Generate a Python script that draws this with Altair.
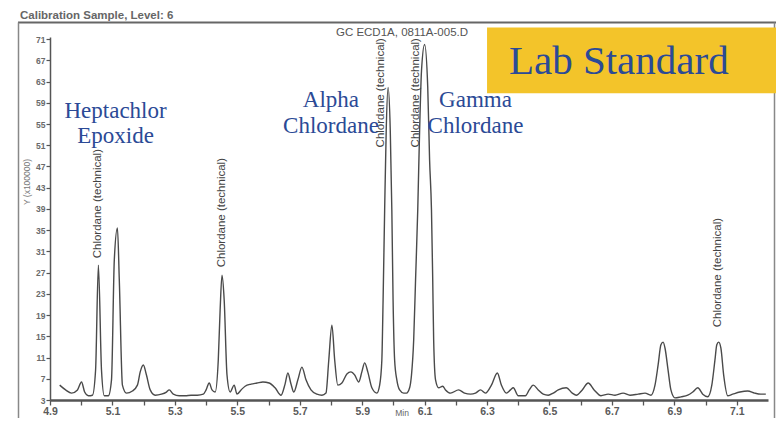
import altair as alt
import pandas as pd

# ---- chromatogram trace (retention time in min, detector response) ----
time_min = [
    4.931, 4.950, 4.969, 4.988, 5.001, 5.011, 5.023, 5.036, 5.046, 5.055,
    5.065, 5.074, 5.087, 5.097, 5.106, 5.116, 5.122, 5.132, 5.145, 5.164,
    5.180, 5.189, 5.199, 5.209, 5.221, 5.237, 5.257, 5.273, 5.282, 5.295,
    5.314, 5.333, 5.352, 5.372, 5.391, 5.400, 5.410, 5.419, 5.429, 5.439,
    5.445, 5.451, 5.458, 5.467, 5.477, 5.490, 5.499, 5.512, 5.525, 5.544,
    5.563, 5.582, 5.602, 5.621, 5.640, 5.653, 5.662, 5.672, 5.681, 5.694,
    5.707, 5.720, 5.736, 5.755, 5.771, 5.784, 5.793, 5.803, 5.812, 5.822,
    5.835, 5.851, 5.864, 5.876, 5.889, 5.899, 5.908, 5.918, 5.931, 5.947,
    5.956, 5.963, 5.967, 5.972, 5.977, 5.983, 5.990, 5.995, 5.999, 6.004,
    6.011, 6.020, 6.033, 6.042, 6.052, 6.058, 6.065, 6.071, 6.078, 6.084,
    6.090, 6.100, 6.110, 6.116, 6.122, 6.126, 6.129, 6.135, 6.145, 6.158,
    6.167, 6.183, 6.209, 6.228, 6.247, 6.263, 6.279, 6.295, 6.314, 6.333,
    6.346, 6.362, 6.375, 6.384, 6.400, 6.423, 6.435, 6.448, 6.464, 6.480,
    6.496, 6.512, 6.528, 6.554, 6.573, 6.586, 6.605, 6.624, 6.643, 6.665,
    6.688, 6.710, 6.736, 6.758, 6.784, 6.806, 6.825, 6.838, 6.848, 6.857,
    6.864, 6.870, 6.880, 6.889, 6.902, 6.921, 6.943, 6.959, 6.975, 6.991,
    7.007, 7.020, 7.030, 7.036, 7.042, 7.049, 7.058, 7.071, 7.087, 7.110,
    7.135, 7.157, 7.177, 7.193,
]
signal = [
    5.8, 4.9, 4.3, 4.9, 6.4, 4.5, 3.8, 3.9, 8.6, 28.4,
    8.6, 3.8, 3.8, 6.8, 29.4, 35.4, 25.6, 5.8, 4.3, 4.7,
    5.8, 8.3, 9.6, 7.7, 4.9, 3.9, 4.1, 4.5, 4.9, 4.1,
    3.8, 3.8, 3.9, 3.9, 4.1, 4.9, 6.2, 4.9, 4.5, 10.5,
    20.0, 26.5, 21.8, 7.7, 4.5, 5.8, 4.1, 4.9, 5.6, 6.0,
    6.2, 6.4, 6.2, 5.3, 3.9, 6.0, 8.1, 6.0, 4.5, 6.8,
    9.2, 6.8, 4.9, 4.1, 3.9, 4.3, 10.5, 17.1, 10.5, 5.8,
    6.2, 7.9, 8.3, 7.7, 6.4, 8.3, 10.0, 8.3, 5.3, 4.3,
    5.8, 10.5, 21.8, 38.8, 53.8, 61.9, 53.8, 38.8, 21.8, 10.5,
    6.8, 4.9, 4.3, 4.3, 5.3, 7.7, 14.3, 25.6, 38.8, 53.8,
    65.0, 70.0, 62.0, 48.2, 38.8, 25.6, 14.3, 6.8, 5.3, 5.6,
    4.9, 4.3, 4.9, 4.3, 4.1, 4.3, 4.9, 4.3, 5.8, 8.1,
    5.8, 4.3, 4.9, 5.3, 3.8, 3.8, 4.9, 5.8, 4.9, 4.1,
    3.9, 4.3, 4.9, 5.3, 4.3, 3.9, 4.9, 6.2, 4.9, 3.8,
    4.1, 3.9, 4.3, 3.9, 4.1, 4.3, 3.9, 5.8, 9.6, 13.4,
    13.9, 12.8, 8.6, 4.9, 3.4, 3.6, 3.9, 4.5, 5.3, 4.1,
    3.6, 5.8, 10.5, 13.4, 13.9, 12.8, 7.7, 3.8, 4.1, 4.5,
    4.7, 4.3, 4.1, 4.1,
]

# ---- axis ticks ----
x_tick_values = [4.9, 5.0, 5.1, 5.2, 5.3, 5.4, 5.5, 5.6, 5.7, 5.8, 5.9, 6.0,
                 6.1, 6.2, 6.3, 6.4, 6.5, 6.6, 6.7, 6.8, 6.9, 7.0, 7.1]
y_tick_values = [3, 7, 11, 15, 19, 23, 27, 31, 35, 39, 43, 47, 51, 55, 59, 63, 67, 71]

# ---- vertical peak labels printed by the instrument ----
peak_label_time = [5.055, 5.451, 5.961, 6.073, 7.039]
peak_label_level = [29.7, 28.0, 50.6, 50.6, 16.7]
peak_label_text = ["Chlordane (technical)"] * 5

# ---- added compound annotations ----
compound_text = ["Heptachlor", "Epoxide", "Alpha", "Chlordane", "Gamma", "Chlordane"]
compound_time = [5.110, 5.110, 5.800, 5.800, 6.263, 6.263]
compound_level = [56.1, 51.4, 58.2, 53.3, 58.2, 53.3]

badge_text = ["Lab Standard"]
badge_time = [6.722]
badge_level = [64.4]
badge_box_t = [6.300]
badge_box_t2 = [7.230]
badge_box_v = [60.8]
badge_box_v2 = [73.2]

trace = pd.DataFrame({"t": time_min, "v": signal})
peaks = pd.DataFrame({"t": peak_label_time, "v": peak_label_level, "label": peak_label_text})
compounds = pd.DataFrame({"t": compound_time, "v": compound_level, "label": compound_text})
badge = pd.DataFrame({"t": badge_time, "v": badge_level, "label": badge_text})
box = pd.DataFrame({"t": badge_box_t, "t2": badge_box_t2, "v": badge_box_v, "v2": badge_box_v2})
one = pd.DataFrame({"k": [0]})

xscale = alt.Scale(domain=[4.9, 7.2], nice=False, zero=False)
yscale = alt.Scale(domain=[3, 71.4], nice=False, zero=False)

x_axis = alt.Axis(
    values=x_tick_values, tickCount=100, title=None, grid=False,
    labelExpr="round(datum.value * 10) % 2 == 1 ? format(datum.value, '.1f') : ''",
    labelFont="Liberation Sans", labelFontSize=10.5, labelFontWeight="bold",
    labelColor="#5a5a5a", labelPadding=1, labelFlush=False, labelOverlap=False,
    tickSize=5, tickColor="#555", tickWidth=1.3,
    domainColor="#555", domainWidth=2.5,
)
y_axis = alt.Axis(
    values=y_tick_values, tickCount=100, title=None, grid=False,
    labelFont="Liberation Sans", labelFontSize=8.5, labelFontWeight="bold",
    labelColor="#6a6a6a", labelPadding=1, labelFlush=False, labelOverlap=False,
    labelExpr="format(datum.value, 'd')",
    tickSize=4, tickColor="#555", tickWidth=1.2,
    domainColor="#555", domainWidth=1.5,
)

line = alt.Chart(trace).mark_line(
    interpolate="monotone", color="#4a4a4a", strokeWidth=1.4, clip=True
).encode(
    x=alt.X("t:Q", scale=xscale, axis=x_axis),
    y=alt.Y("v:Q", scale=yscale, axis=y_axis),
)

peak_text = alt.Chart(peaks).mark_text(
    angle=270, align="left", baseline="middle",
    font="Liberation Sans", fontSize=11.5, color="#444",
).encode(x="t:Q", y="v:Q", text="label:N")

box_layer = alt.Chart(box).mark_rect(color="#F3C42A").encode(
    x="t:Q", x2="t2:Q", y="v:Q", y2="v2:Q"
)

compound_layer = alt.Chart(compounds).mark_text(
    align="center", baseline="alphabetic",
    font="Liberation Serif", fontSize=23, color="#2B4A96",
).encode(x="t:Q", y="v:Q", text="label:N")

badge_layer = alt.Chart(badge).mark_text(
    align="center", baseline="alphabetic",
    font="Liberation Serif", fontSize=41, color="#2B4A96",
).encode(x="t:Q", y="v:Q", text="label:N")

# ---- scanned page decorations (frame, title, header) ----
title_txt = alt.Chart(one).mark_text(
    align="left", baseline="alphabetic", font="Liberation Sans", fontWeight="bold",
    fontSize=11.5, color="#666", text="Calibration Sample, Level: 6",
).encode(x=alt.value(-30), y=alt.value(-18.5))

header_txt = alt.Chart(one).mark_text(
    align="center", baseline="middle", font="Liberation Sans",
    fontSize=11.5, color="#555", text="GC ECD1A, 0811A-005.D",
).encode(x=alt.value(352), y=alt.value(-4))

ytitle_txt = alt.Chart(one).mark_text(
    align="center", baseline="middle", font="Liberation Sans", angle=270,
    fontSize=8.5, color="#777", text="Y (x100000)",
).encode(x=alt.value(-23), y=alt.value(145))

min_txt = alt.Chart(one).mark_text(
    align="center", baseline="alphabetic", font="Liberation Sans",
    fontSize=8.5, color="#666", text="Min",
).encode(x=alt.value(352), y=alt.value(379))

top_rule = alt.Chart(one).mark_rule(color="#666", strokeWidth=2.2).encode(
    x=alt.value(-32), x2=alt.value(740), y=alt.value(-14.5)
)
left_rule = alt.Chart(one).mark_rule(color="#888", strokeWidth=1.5).encode(
    x=alt.value(-31.5), y=alt.value(-14.5), y2=alt.value(381)
)
right_rule = alt.Chart(one).mark_rule(color="#888", strokeWidth=1.5).encode(
    x=alt.value(724.5), y=alt.value(-14.5), y2=alt.value(381)
)

chart = alt.layer(
    top_rule, left_rule, right_rule, title_txt, header_txt, ytitle_txt, min_txt,
    line, peak_text, box_layer, compound_layer, badge_layer,
).properties(
    width=718, height=363,
    autosize=alt.AutoSizeParams(type="none"),
    padding={"left": 42, "top": 29, "right": 8, "bottom": 18},
    background="white",
).configure_view(stroke=None).configure_axis(labelOverlap=False)

chart.save("out.html", embed_options={"renderer": "svg", "actions": False})
